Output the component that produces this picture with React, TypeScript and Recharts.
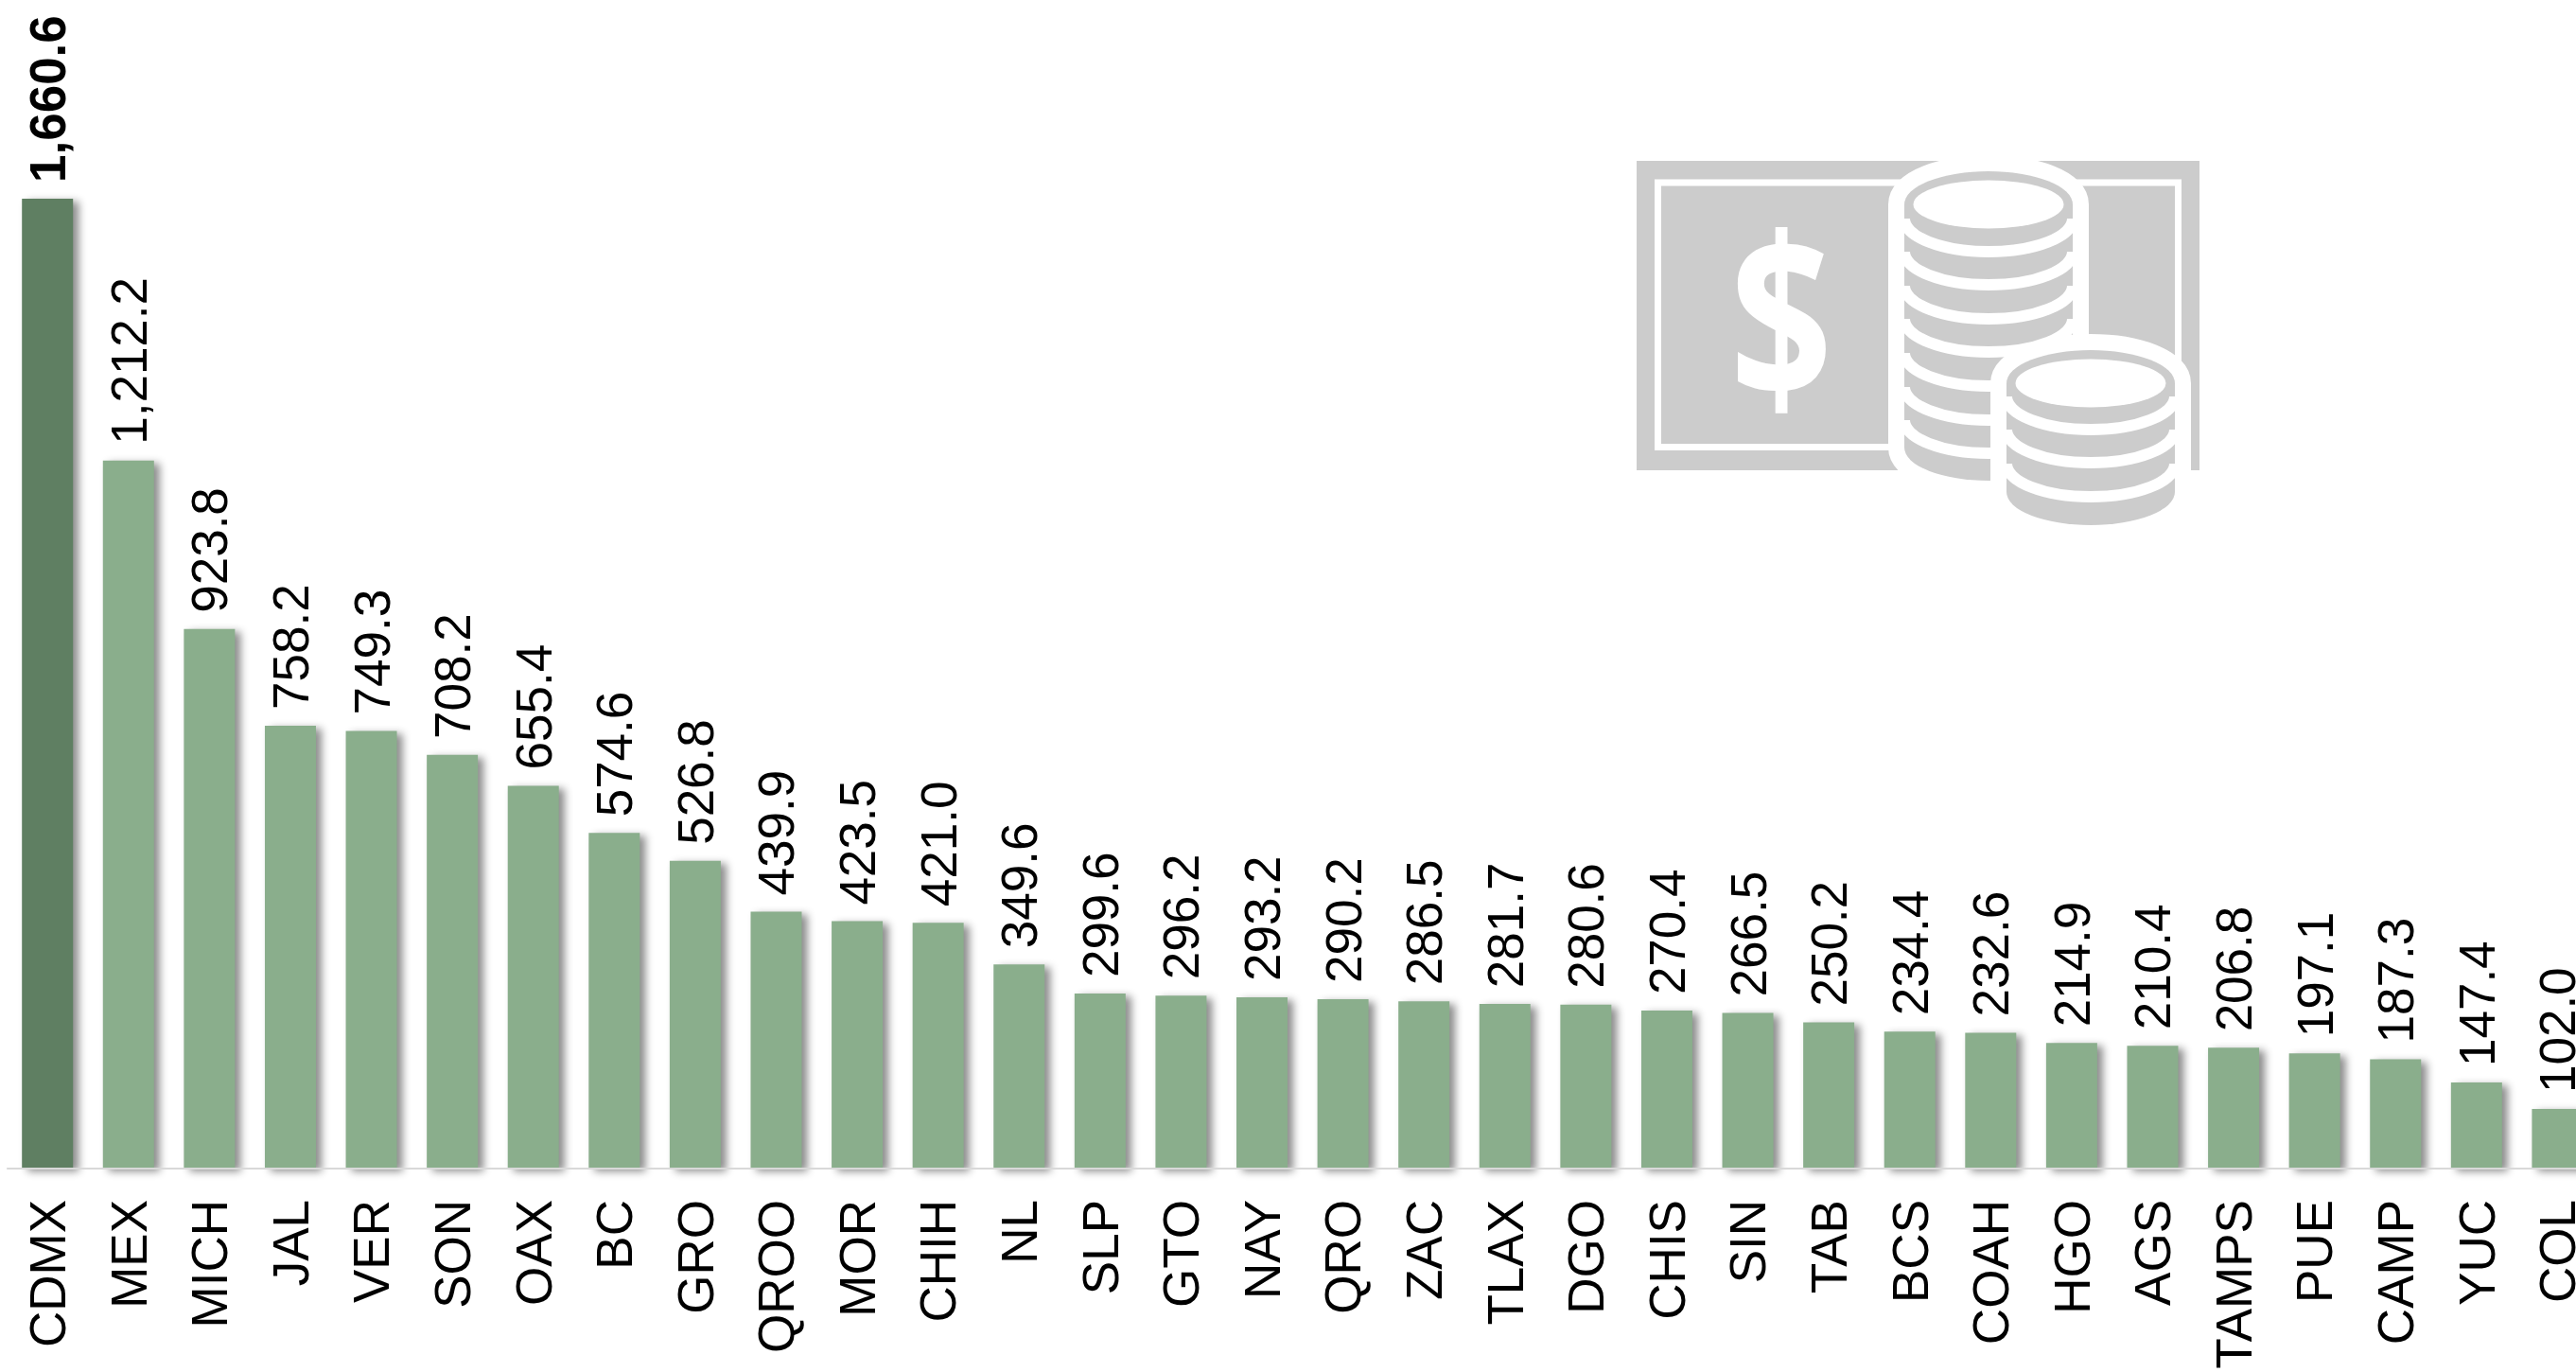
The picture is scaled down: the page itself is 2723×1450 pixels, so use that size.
import React from 'react';
import { BarChart, Bar, XAxis, YAxis, LabelList, Rectangle } from 'recharts';

const STATES = ['CDMX', 'MEX', 'MICH', 'JAL', 'VER', 'SON', 'OAX', 'BC', 'GRO', 'QROO', 'MOR', 'CHIH', 'NL', 'SLP', 'GTO', 'NAY', 'QRO', 'ZAC', 'TLAX', 'DGO', 'CHIS', 'SIN', 'TAB', 'BCS', 'COAH', 'HGO', 'AGS', 'TAMPS', 'PUE', 'CAMP', 'YUC', 'COL'];
const VALUES = [1660.6, 1212.2, 923.8, 758.2, 749.3, 708.2, 655.4, 574.6, 526.8, 439.9, 423.5, 421.0, 349.6, 299.6, 296.2, 293.2, 290.2, 286.5, 281.7, 280.6, 270.4, 266.5, 250.2, 234.4, 232.6, 214.9, 210.4, 206.8, 197.1, 187.3, 147.4, 102.0];

const data = STATES.map((name, i) => ({ name, value: VALUES[i] }));

const FONT = '"Liberation Sans", Arial, sans-serif';
const GREEN = '#8AAE8C';
const DARK_GREEN = '#5F7F62';
const ICON = '#CCCCCC';

const fmt = (v: number) =>
  v.toLocaleString('en-US', { minimumFractionDigits: 1, maximumFractionDigits: 1 });

const BarShape = (props: any) => (
  <Rectangle
    {...props}
    fill={props.index === 0 ? DARK_GREEN : GREEN}
    style={{ filter: 'drop-shadow(6px 3px 4px rgba(0,0,0,0.45))' }}
  />
);

const ValueLabel = ({ x, y, width, value, index }: any) => {
  const cx = x + width / 2 + 19;
  const cy = y - 17;
  return (
    <text
      x={cx}
      y={cy}
      transform={`rotate(-90 ${cx} ${cy})`}
      fontFamily={FONT}
      fontSize={53}
      fontWeight={index === 0 ? 'bold' : 'normal'}
      fill="#000"
    >
      {fmt(value)}
    </text>
  );
};

const StateTick = ({ x, y, payload }: any) => {
  const cx = x + 19;
  const cy = y + 25;
  return (
    <text
      x={cx}
      y={cy}
      transform={`rotate(-90 ${cx} ${cy})`}
      textAnchor="end"
      fontFamily={FONT}
      fontSize={53}
      fill="#000"
    >
      {payload.value}
    </text>
  );
};

// coin stack for the money icon, top = centre of the top face, arcs = lowest y of each white band
const Coins = ({ cx, top, bottom, arcs }: { cx: number; top: number; bottom: number; arcs: number[] }) => {
  const rx = 89;
  const ry = 35;
  const body = `M${cx - rx} ${top} V${bottom - ry} A${rx} ${ry} 0 0 0 ${cx + rx} ${bottom - ry} V${top} A${rx} ${ry} 0 0 0 ${cx - rx} ${top} Z`;
  return (
    <g>
      <path d={body} fill="#fff" stroke="#fff" strokeWidth={34} />
      <path d={body} fill={ICON} />
      {arcs.map(a => (
        <path
          key={a}
          d={`M${cx - rx} ${a - ry} A${rx} ${ry} 0 0 0 ${cx + rx} ${a - ry}`}
          fill="none"
          stroke="#fff"
          strokeWidth={12}
        />
      ))}
      <ellipse cx={cx} cy={top} rx={79.5} ry={25.5} fill="#fff" />
    </g>
  );
};

const MoneyIcon = () => (
  <svg width={2723} height={1450} style={{ position: 'absolute', left: 0, top: 0, pointerEvents: 'none' }}>
    <rect x={1730} y={170} width={595} height={327} fill={ICON} />
    <rect x={1752.5} y={193} width={550} height={279.5} fill="none" stroke="#fff" strokeWidth={7} />
    <text
      transform="translate(1883 423) scale(0.79 1)"
      textAnchor="middle"
      fontFamily='"Open Sans", sans-serif'
      fontWeight="bold"
      fontSize={240}
      fill="#fff"
    >
      $
    </text>
    <Coins cx={2102} top={216} bottom={508} arcs={[266, 301, 337, 372, 408, 444, 479]} />
    <Coins cx={2210} top={405} bottom={555} arcs={[454, 489, 525]} />
  </svg>
);

export default function App() {
  return (
    <div style={{ position: 'absolute', left: 0, top: 0, width: 2723, height: 1450, overflow: 'hidden', background: '#fff' }}>
      <BarChart
        width={2746}
        height={1450}
        data={data}
        margin={{ top: 210, right: 0, bottom: 0, left: 7.2 }}
        barSize={54}
      >
        <XAxis
          dataKey="name"
          interval={0}
          height={215}
          tickLine={false}
          axisLine={{ stroke: '#D9D9D9', strokeWidth: 2 }}
          tick={<StateTick />}
        />
        <YAxis hide domain={[0, 1660.6]} />
        <Bar dataKey="value" isAnimationActive={false} shape={<BarShape />}>
          <LabelList dataKey="value" content={<ValueLabel />} />
        </Bar>
      </BarChart>
      <MoneyIcon />
    </div>
  );
}
